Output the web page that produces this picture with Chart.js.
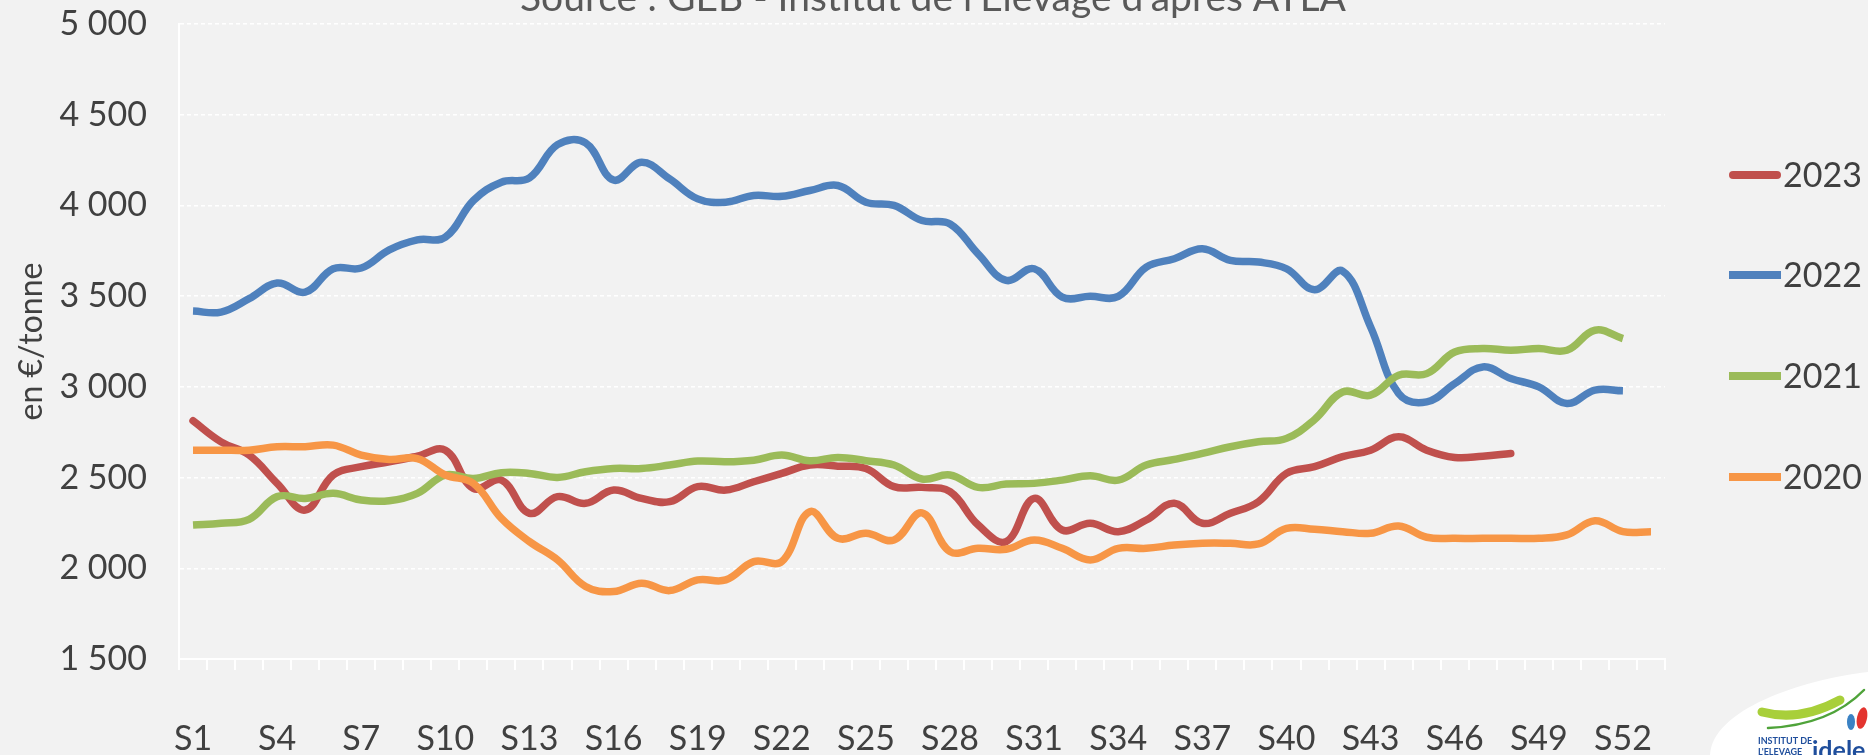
<!DOCTYPE html>
<html><head><meta charset="utf-8">
<script src="https://cdn.jsdelivr.net/npm/chart.js@4.4.0/dist/chart.umd.min.js"></script>
<style>
html,body{margin:0;padding:0;background:#F2F2F2;overflow:hidden;}
#wrap{position:relative;width:1868px;height:755px;}
canvas{display:block;}
</style></head><body>
<div id="wrap"><canvas id="c" width="1868" height="755"></canvas></div>
<script>
const weeks = ['S1','S2','S3','S4','S5','S6','S7','S8','S9','S10','S11','S12','S13','S14','S15','S16','S17','S18','S19','S20','S21','S22','S23','S24','S25','S26','S27','S28','S29','S30','S31','S32','S33','S34','S35','S36','S37','S38','S39','S40','S41','S42','S43','S44','S45','S46','S47','S48','S49','S50','S51','S52','S53'];
const shownWeekLabels = ['S1','S4','S7','S10','S13','S16','S19','S22','S25','S28','S31','S34','S37','S40','S43','S46','S49','S52'];
const yTicks = [1500, 2000, 2500, 3000, 3500, 4000, 4500, 5000];
const seriesNames = ['2023', '2022', '2021', '2020'];

const s2023 = [2813,2697,2624,2468,2321,2514,2560,2587,2618,2651,2440,2486,2303,2395,2358,2431,2385,2367,2450,2431,2477,2523,2569,2563,2550,2450,2446,2422,2239,2147,2385,2211,2248,2202,2266,2358,2248,2303,2367,2523,2560,2615,2651,2725,2651,2611,2618,2633];
const s2022 = [3418,3412,3486,3572,3522,3651,3655,3755,3810,3825,4027,4128,4152,4335,4345,4140,4238,4146,4036,4018,4055,4050,4082,4110,4018,4000,3917,3898,3733,3587,3651,3495,3499,3499,3660,3706,3761,3697,3688,3651,3535,3638,3330,2963,2917,3018,3110,3046,3000,2908,2982,2978];
const s2021 = [2239,2248,2270,2395,2385,2413,2376,2372,2413,2514,2495,2527,2523,2501,2532,2550,2550,2569,2591,2587,2596,2624,2593,2611,2593,2569,2492,2514,2446,2464,2468,2486,2510,2486,2569,2600,2633,2670,2697,2716,2820,2972,2954,3064,3073,3192,3211,3202,3211,3202,3312,3266];
const s2020 = [2651,2651,2651,2670,2670,2679,2624,2600,2605,2514,2468,2275,2147,2046,1900,1872,1918,1877,1936,1936,2037,2037,2312,2165,2193,2156,2305,2092,2110,2105,2156,2110,2046,2110,2110,2128,2138,2138,2134,2220,2215,2202,2193,2233,2171,2165,2165,2165,2165,2184,2262,2202,2202];

const colors = ['#C0504D', '#4F81BD', '#9BBB59', '#F79646'];
const FONT = 'Lato, "Liberation Sans", Arial, sans-serif';
const TXT = '#404040';

function fmt(v){ return String(v).replace(/\B(?=(\d{3})+(?!\d))/g, ' '); }

const titlePlugin = {
  id: 'topTitle',
  afterDraw(chart){
    const ctx = chart.ctx;
    ctx.save();
    ctx.font = '39px ' + FONT;
    ctx.fillStyle = '#595959';
    ctx.textAlign = 'center';
    ctx.textBaseline = 'alphabetic';
    ctx.fillText("Source : GEB - Institut de l'Elevage d'après ATLA", 933, 11);
    ctx.restore();
  }
};

const legendPlugin = {
  id: 'sideLegend',
  afterDraw(chart){
    const ctx = chart.ctx;
    const ys = [175, 275, 376, 477];
    ctx.save();
    chart.data.datasets.forEach((ds, i) => {
      const y = ys[i];
      ctx.strokeStyle = ds.borderColor;
      ctx.lineWidth = 8;
      ctx.lineCap = ds.borderCapStyle === 'round' ? 'round' : 'butt';
      ctx.beginPath();
      if (ctx.lineCap === 'round') { ctx.moveTo(1733, y); ctx.lineTo(1777, y); }
      else { ctx.moveTo(1729, y); ctx.lineTo(1781, y); }
      ctx.stroke();
      ctx.font = '34px ' + FONT;
      ctx.fillStyle = TXT;
      ctx.textAlign = 'left';
      ctx.textBaseline = 'middle';
      ctx.fillText(ds.label, 1783, y + 1);
    });
    ctx.restore();
  }
};

const logoPlugin = {
  id: 'logo',
  afterDraw(chart){
    const ctx = chart.ctx;
    ctx.save();
    ctx.fillStyle = '#FFFFFF';
    ctx.beginPath();
    ctx.moveTo(1868, 672);
    ctx.bezierCurveTo(1800, 680, 1712, 710, 1710, 755);
    ctx.lineTo(1868, 755);
    ctx.closePath();
    ctx.fill();
    ctx.strokeStyle = '#A8CF3A';
    ctx.lineWidth = 9;
    ctx.lineCap = 'round';
    ctx.beginPath();
    ctx.moveTo(1762, 712);
    ctx.quadraticCurveTo(1800, 722, 1840, 700);
    ctx.stroke();
    ctx.strokeStyle = '#4FA33A';
    ctx.lineWidth = 2.5;
    ctx.beginPath();
    ctx.moveTo(1768, 728);
    ctx.quadraticCurveTo(1830, 725, 1864, 690);
    ctx.stroke();
    ctx.fillStyle = '#E3342F';
    ctx.beginPath();
    ctx.ellipse(1862, 718, 5, 11, 0.2, 0, Math.PI * 2);
    ctx.fill();
    ctx.fillStyle = '#3B82C4';
    ctx.beginPath();
    ctx.ellipse(1851, 722, 4, 8, 0, 0, Math.PI * 2);
    ctx.fill();
    ctx.fillStyle = '#1F4E9C';
    ctx.font = 'bold 9px ' + FONT;
    ctx.textAlign = 'left';
    ctx.textBaseline = 'alphabetic';
    ctx.fillText('INSTITUT DE', 1758, 744);
    ctx.fillText("L'ELEVAGE", 1758, 755);
    ctx.font = 'bold 25px ' + FONT;
    ctx.fillText('idele', 1812, 759);
    ctx.restore();
  }
};

new Chart(document.getElementById('c'), {
  type: 'line',
  data: {
    labels: weeks,
    datasets: [
      { label: seriesNames[0], data: s2023, borderColor: colors[0], backgroundColor: colors[0], borderCapStyle: 'round', order: 4 },
      { label: seriesNames[1], data: s2022, borderColor: colors[1], backgroundColor: colors[1], borderCapStyle: 'butt', order: 3 },
      { label: seriesNames[2], data: s2021, borderColor: colors[2], backgroundColor: colors[2], borderCapStyle: 'butt', order: 2 },
      { label: seriesNames[3], data: s2020, borderColor: colors[3], backgroundColor: colors[3], borderCapStyle: 'butt', order: 1 }
    ]
  },
  options: {
    responsive: false,
    animation: false,
    devicePixelRatio: 1,
    layout: { padding: { top: 24, right: 203, bottom: 0, left: 0 } },
    elements: {
      line: { borderWidth: 7.5, tension: 0.4, borderJoinStyle: 'round', fill: false },
      point: { radius: 0, hoverRadius: 0 }
    },
    plugins: { legend: { display: false }, tooltip: { enabled: false }, title: { display: false } },
    scales: {
      x: {
        type: 'category',
        offset: true,
        afterFit(scale){ scale.height = 96; scale.paddingTop = 0; scale.paddingBottom = 0; },
        grid: { drawOnChartArea: false, drawTicks: true, tickLength: 11, color: '#FFFFFF', lineWidth: 2, offset: true },
        border: { display: true, color: '#FFFFFF', width: 2 },
        ticks: {
          autoSkip: false, maxRotation: 0, minRotation: 0, padding: 49,
          color: TXT, font: { family: FONT, size: 34 },
          callback(value, index){ const l = weeks[index]; return shownWeekLabels.includes(l) ? l : ''; }
        }
      },
      y: {
        min: yTicks[0], max: yTicks[yTicks.length - 1],
        afterFit(scale){ scale.width = 179; scale.paddingTop = 0; scale.paddingBottom = 0; },
        afterBuildTicks(scale){ scale.ticks = yTicks.map(v => ({ value: v })); },
        grid: { drawTicks: false, color: '#FFFFFF', lineWidth: 1.5 },
        border: { display: true, color: '#FFFFFF', width: 2, dash: [4, 3] },
        ticks: { padding: 32, color: TXT, font: { family: FONT, size: 34 }, callback: v => fmt(v) },
        title: { display: true, text: 'en €/tonne', color: TXT, font: { family: FONT, size: 32 }, padding: { top: 12, bottom: 0 } }
      }
    }
  },
  plugins: [titlePlugin, legendPlugin, logoPlugin]
});
</script>
</body></html>
